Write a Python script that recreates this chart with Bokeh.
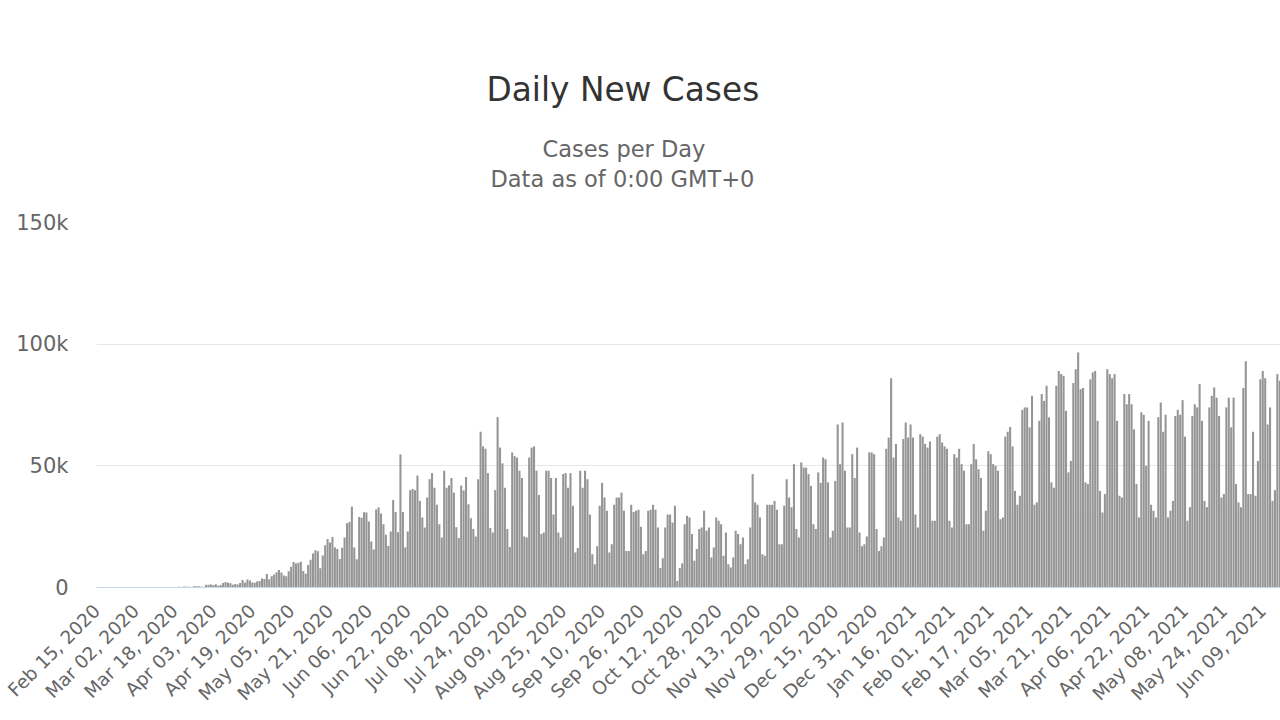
from bokeh.plotting import figure
from bokeh.models import ColumnDataSource, FixedTicker, Range1d, Title
from bokeh.embed import file_html
from bokeh.resources import INLINE
from math import pi

# ---------------- data ----------------
title_text = "Daily New Cases"
subtitle_lines = ["Cases per Day", "Data as of 0:00 GMT+0"]

# daily new cases, one value per day starting Feb 15, 2020 (weeks Sat..Fri)
daily_new_cases = [
    0, 0, 0, 0, 0, 0, 0,
    0, 0, 0, 0, 1, 0, 0,
    1, 0, 0, 0, 1, 1, 5,
    6, 6, 6, 9, 18, 25, 21,
    23, 79, 34, 57, 137, 193, 283,
    224, 418, 345, 310, 232, 482, 502,
    487, 352, 323, 1138, 1119, 1208, 1012,
    1304, 770, 1031, 1873, 2210, 1930, 1781,
    1089, 1442, 1261, 1832, 3058, 2105, 3257,
    2917, 2055, 1927, 2498, 2678, 3735, 3503,
    5514, 3379, 4613, 5385, 6276, 7218, 6209,
    4970, 4588, 6633, 8489, 10503, 9888, 10222,
    10611, 6760, 5632, 9258, 11385, 13944, 15305,
    14919, 7938, 13140, 17408, 19951, 18508, 20803,
    16508, 15813, 11687, 16324, 20599, 26417, 26928,
    33274, 16409, 11598, 28936, 28633, 30925, 30830,
    27075, 18912, 15654, 32091, 32913, 30412, 25982,
    21700, 17100, 23000, 36000, 31000, 22700, 54700,
    31000, 16500, 23000, 40000, 40500, 40000, 46000,
    35600, 28800, 24700, 37000, 44500, 47000, 41000,
    34000, 26000, 20500, 48000, 41000, 42000, 45000,
    39000, 24800, 20300, 41900, 39900, 45400, 34200,
    28500, 24000, 21000, 44500, 64000, 58000, 57000,
    47000, 24500, 22600, 40000, 70000, 57500, 51000,
    41000, 24000, 16600, 55500, 54000, 53400, 48000,
    45000, 21000, 20500, 53400, 57500, 58000, 48000,
    38000, 22000, 22600, 48000, 48000, 45000, 30000,
    45000, 22600, 20500, 46600, 47000, 41000, 47000,
    33600, 14400, 16200, 48000, 41000, 48000, 44500,
    30000, 13700, 9600, 17000, 33600, 43000, 37000,
    31500, 14400, 17800, 34000, 37000, 37000, 39000,
    31500, 15000, 15000, 34000, 31000, 31500, 32000,
    25000, 13700, 15000, 31500, 32000, 34000, 32000,
    24700, 8000, 12000, 24700, 30000, 30000, 26700,
    33600, 2700, 8000, 10000, 26000, 29500, 28800,
    22000, 11000, 15800, 24000, 24700, 31500, 23300,
    24700, 12300, 16400, 28800, 27400, 26000, 13000,
    22600, 9600, 8200, 12300, 23300, 22000, 17800,
    20500, 9600, 11600, 24700, 46600, 35000, 34000,
    28800, 13700, 13000, 34000, 34000, 34000, 35600,
    32000, 17800, 17800, 33600, 44500, 37000, 33000,
    50700, 24000, 20500, 51400, 49300, 49300, 46600,
    41800, 26000, 24000, 47300, 43000, 53400, 52700,
    43200, 20500, 23300, 43800, 67000, 50700, 67800,
    48000, 24700, 24700, 54800, 45000, 57500, 22600,
    17000, 17800, 21000, 55500, 55500, 54800, 24000,
    15000, 17000, 20500, 57000, 61600, 86000, 53400,
    59000, 28800, 27400, 61000, 67800, 61600, 67000,
    61600, 30000, 24700, 63000, 62000, 59000, 57500,
    60000, 27400, 27400, 62000, 63000, 59600, 58000,
    57000, 27400, 24700, 54800, 53400, 57000, 50700,
    48000, 26000, 26000, 50700, 59000, 52700, 48600,
    45000, 23300, 31500, 56000, 54800, 50700, 50000,
    48000, 28000, 28800, 62000, 64000, 66000, 58000,
    39700, 34000, 37700, 73000, 74000, 74000, 65800,
    78800, 34000, 35000, 68500, 79500, 76700, 82900,
    69900, 43200, 41000, 82900, 89000, 87700, 87000,
    72600, 47300, 52000, 84000, 89700, 96600, 81500,
    82000, 43200, 42500, 85600, 88400, 89000, 68500,
    39700, 30800, 38400, 89700, 87700, 86000, 87700,
    68500, 37700, 37000, 79500, 75300, 79500, 75300,
    65000, 42500, 28800, 72000, 71000, 50000, 68500,
    34000, 31500, 28800, 70000, 76000, 64000, 71000,
    28800, 31500, 35600, 70500, 73000, 71000, 77000,
    62000, 27400, 33000, 70500, 75300, 74000, 83600,
    68500, 35600, 33000, 74000, 78800, 82200, 78000,
    70500, 37000, 38400, 74000, 78000, 65800, 78000,
    42500, 35000, 33000, 82000, 93000, 38400, 38400,
    64000, 37700, 52000, 85600, 89000, 86000, 67000,
    74000, 35600, 40000, 87700, 85000,
]

x_tick_labels = [
    "Feb 15, 2020", "Mar 02, 2020", "Mar 18, 2020", "Apr 03, 2020", "Apr 19, 2020",
    "May 05, 2020", "May 21, 2020", "Jun 06, 2020", "Jun 22, 2020", "Jul 08, 2020",
    "Jul 24, 2020", "Aug 09, 2020", "Aug 25, 2020", "Sep 10, 2020", "Sep 26, 2020",
    "Oct 12, 2020", "Oct 28, 2020", "Nov 13, 2020", "Nov 29, 2020", "Dec 15, 2020",
    "Dec 31, 2020", "Jan 16, 2021", "Feb 01, 2021", "Feb 17, 2021", "Mar 05, 2021",
    "Mar 21, 2021", "Apr 06, 2021", "Apr 22, 2021", "May 08, 2021", "May 24, 2021",
    "Jun 09, 2021",
]
x_tick_every_days = 16

y_tick_values = [0, 50000, 100000, 150000]
y_tick_labels = ["0", "50k", "100k", "150k"]

# ---------------- figure ----------------
FONT = "DejaVu Sans"
day_index = list(range(len(daily_new_cases)))
source = ColumnDataSource(dict(day=day_index, cases=daily_new_cases))

p = figure(
    width=1280, height=720, title=None,
    output_backend="svg", toolbar_location=None,
    x_range=Range1d(-0.13, 487.3), y_range=Range1d(0, 150000),
    min_border_left=96, min_border_right=0, min_border_top=222, min_border_bottom=133,
)
p.outline_line_color = None
p.background_fill_color = "white"
p.border_fill_color = "white"

p.vbar(x="day", top="cases", width=0.85, source=source,
       fill_color="#959595", line_color=None)

# x axis
x_ticks = [i * x_tick_every_days for i in range(len(x_tick_labels))]
xa = p.xaxis[0]
xa.ticker = FixedTicker(ticks=x_ticks)
xa.major_label_overrides = {t: lab for t, lab in zip(x_ticks, x_tick_labels)}
xa.major_label_orientation = pi / 4
xa.major_label_text_font = FONT
xa.major_label_text_font_size = "18.5px"
xa.major_label_text_color = "#666666"
xa.major_label_standoff = 20
xa.major_tick_out = 0
xa.major_tick_in = 0
xa.minor_tick_out = 0
xa.minor_tick_in = 0
xa.axis_line_color = "#ccd6eb"
xa.axis_line_width = 1

# y axis
ya = p.yaxis[0]
ya.ticker = FixedTicker(ticks=y_tick_values)
ya.major_label_overrides = {v: lab for v, lab in zip(y_tick_values, y_tick_labels)}
ya.major_label_text_font = FONT
ya.major_label_text_font_size = "21px"
ya.major_label_text_color = "#666666"
ya.major_label_standoff = 28
ya.major_tick_out = 0
ya.major_tick_in = 0
ya.minor_tick_out = 0
ya.minor_tick_in = 0
ya.axis_line_color = None

p.xgrid.grid_line_color = None
p.ygrid.grid_line_color = "#e6e6e6"
p.ygrid.grid_line_width = 1

# titles stacked above the frame (first added = closest to the frame)
p.add_layout(Title(text=" ", text_font_size="1px", standoff=28), "above")
p.add_layout(Title(text=subtitle_lines[1], align="left", offset=394, standoff=0,
                   vertical_align="bottom", text_font=FONT, text_font_size="22.5px",
                   text_font_style="normal", text_color="#666666"), "above")
p.add_layout(Title(text=subtitle_lines[0], align="left", offset=446, standoff=4,
                   vertical_align="bottom", text_font=FONT, text_font_size="22.5px",
                   text_font_style="normal", text_color="#666666"), "above")
p.add_layout(Title(text=title_text, align="left", offset=390, standoff=46,
                   vertical_align="bottom", text_font=FONT, text_font_size="32.8px",
                   text_font_style="normal", text_color="#333333"), "above")

open("out.html", "w").write(file_html(p, INLINE))
